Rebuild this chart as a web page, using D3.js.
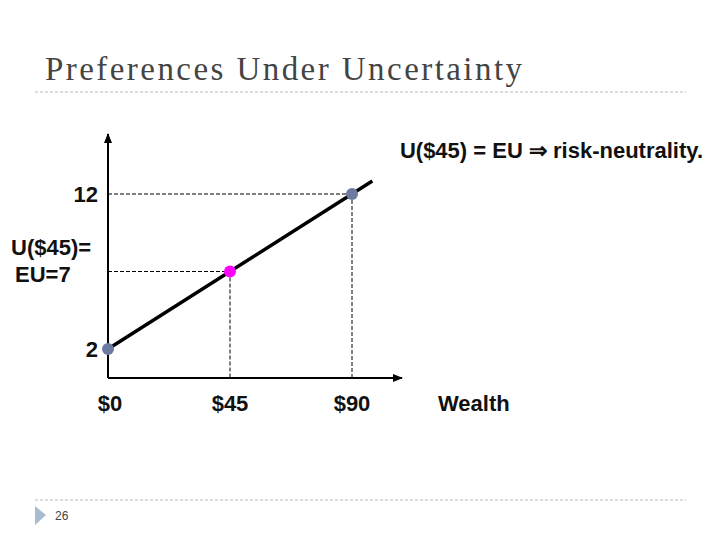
<!DOCTYPE html>
<html>
<head>
<meta charset="utf-8">
<script src="https://cdnjs.cloudflare.com/ajax/libs/d3/7.8.5/d3.min.js"></script>
<style>
  body { margin: 0; background: #fff; }
  .lbl { font-family: "Liberation Sans", Arial, sans-serif; font-weight: bold; font-size: 22px; fill: #111; }
</style>
</head>
<body>
<script>
var wealth = [0, 45, 90];
var utility = [2, 7, 12];
var pointColors = ["#6e7ba0", "#ff00ff", "#6e7ba0"];
var tickLabels = ["$0", "$45", "$90"];
var lineWealth = [0, 97.5];

var svg = d3.select("body").append("svg").attr("width", 720).attr("height", 540);

var x = d3.scaleLinear().domain([0, 90]).range([108, 352]);
var y = d3.scaleLinear().domain([2, 12]).range([349, 194]);
var axisY = 378;

// slide chrome
svg.append("text").attr("x", 45).attr("y", 80).attr("textLength", 477)
  .style("font-family", "'Liberation Serif', serif").style("font-size", "33px").attr("fill", "#444")
  .text("Preferences Under Uncertainty");
[92, 500].forEach(function(yy) {
  svg.append("line").attr("x1", 35).attr("x2", 686).attr("y1", yy).attr("y2", yy)
    .attr("stroke", "#b4bcc4").attr("stroke-dasharray", "3,2");
});
svg.append("path").attr("d", "M35,506 L46,515 L35,525 Z").attr("fill", "#a9bdd0");
svg.append("text").attr("x", 55).attr("y", 520)
  .style("font-family", "'Liberation Sans Narrow', 'Liberation Sans', sans-serif").style("font-size", "12px").attr("fill", "#444").text("26");

// axes with arrows
svg.append("defs").append("marker").attr("id", "arr").attr("viewBox", "0 0 10 10")
  .attr("refX", 9).attr("refY", 5).attr("markerWidth", 5).attr("markerHeight", 5).attr("orient", "auto")
  .append("path").attr("d", "M0,1 L10,5 L0,9 Z").attr("fill", "#000");
svg.append("line").attr("x1", x(0)).attr("y1", axisY).attr("x2", x(0)).attr("y2", 134)
  .attr("stroke", "#000").attr("stroke-width", 2).attr("marker-end", "url(#arr)");
svg.append("line").attr("x1", x(0)).attr("y1", axisY).attr("x2", 402).attr("y2", axisY)
  .attr("stroke", "#000").attr("stroke-width", 2).attr("marker-end", "url(#arr)");

// guide lines
[1, 2].forEach(function(i) {
  svg.append("line").attr("x1", x(0)).attr("x2", x(wealth[i])).attr("y1", y(utility[i])).attr("y2", y(utility[i]))
    .attr("stroke", "#000").attr("stroke-dasharray", "4,2");
  svg.append("line").attr("x1", x(wealth[i])).attr("x2", x(wealth[i])).attr("y1", y(utility[i])).attr("y2", axisY)
    .attr("stroke", "#000").attr("stroke-dasharray", "4,2");
});

// utility line (linear)
var slope = (utility[2] - utility[0]) / (wealth[2] - wealth[0]);
svg.append("line")
  .attr("x1", x(lineWealth[0])).attr("y1", y(utility[0] + slope * lineWealth[0]))
  .attr("x2", x(lineWealth[1])).attr("y2", y(utility[0] + slope * lineWealth[1]))
  .attr("stroke", "#000").attr("stroke-width", 3.5);

svg.selectAll("circle.pt").data(wealth).enter().append("circle")
  .attr("cx", function(d) { return x(d); })
  .attr("cy", function(d, i) { return y(utility[i]); })
  .attr("r", 6).attr("fill", function(d, i) { return pointColors[i]; });

// tick labels
svg.selectAll("text.tk").data(tickLabels).enter().append("text").attr("class", "lbl")
  .attr("x", function(d, i) { return x(wealth[i]) + (i === 0 ? 2 : 0); }).attr("y", 411)
  .attr("text-anchor", "middle").text(function(d) { return d; });
svg.append("text").attr("class", "lbl").attr("x", 438).attr("y", 411).text("Wealth");

svg.append("text").attr("class", "lbl").attr("x", 98).attr("y", y(12) + 8).attr("text-anchor", "end").text("12");
svg.append("text").attr("class", "lbl").attr("x", 98).attr("y", y(2) + 8).attr("text-anchor", "end").text("2");
svg.append("text").attr("class", "lbl").attr("x", 11).attr("y", 255).text("U($45)=");
svg.append("text").attr("class", "lbl").attr("x", 15).attr("y", 282).text("EU=7");

svg.append("text").attr("class", "lbl").attr("x", 703).attr("y", 158).attr("text-anchor", "end")
  .style("font-size", "22px").text("U($45) = EU \u21D2 risk-neutrality.");
</script>
</body>
</html>
